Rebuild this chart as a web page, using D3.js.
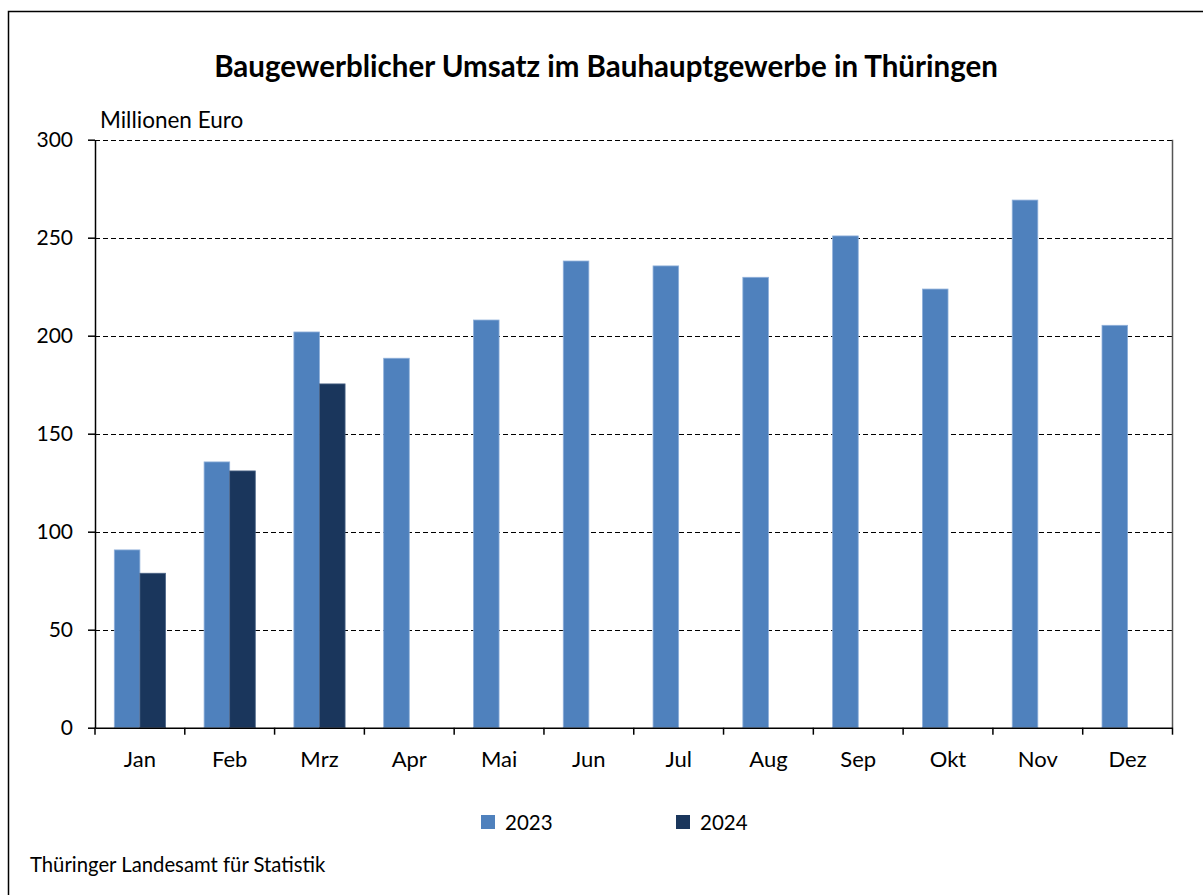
<!DOCTYPE html>
<html>
<head>
<meta charset="utf-8">
<script src="https://cdn.jsdelivr.net/npm/d3@7"></script>
<style>
  body { margin: 0; background: #fff; }
  svg { display: block; font-family: Lato, "Noto Sans", sans-serif; }
</style>
</head>
<body>
<div id="chart"></div>
<script>
const months = ["Jan", "Feb", "Mrz", "Apr", "Mai", "Jun", "Jul", "Aug", "Sep", "Okt", "Nov", "Dez"];
const years = ["2023", "2024"];
const values2023 = [90.7, 135.6, 201.9, 188.5, 208.0, 238.1, 235.6, 229.8, 250.9, 223.8, 269.2, 205.3];
const values2024 = [78.8, 131.0, 175.4, null, null, null, null, null, null, null, null, null];
const yTicks = [0, 50, 100, 150, 200, 250, 300];
const colors = ["#4f81bd", "#1a365c"];

const width = 1203, height = 895;
const margin = {left: 95, right: 1172.5, top: 139.7, bottom: 727.7};

const svg = d3.select("#chart").append("svg")
  .attr("width", width).attr("height", height);

// outer frame
svg.append("rect")
  .attr("x", 8.5).attr("y", 11.5)
  .attr("width", width + 10).attr("height", height + 10)
  .attr("fill", "none").attr("stroke", "#000").attr("stroke-width", 1.5);

const x = d3.scaleBand().domain(months)
  .range([margin.left, margin.right])
  .paddingInner(0.43).paddingOuter(0.215);
const xs = d3.scaleBand().domain(years).range([0, x.bandwidth()]);
const y = d3.scaleLinear().domain([0, 300]).range([margin.bottom, margin.top]);

// gridlines
svg.append("g").selectAll("line")
  .data(yTicks.filter(d => d > 0))
  .join("line")
  .attr("x1", margin.left).attr("x2", margin.right)
  .attr("y1", d => Math.round(y(d)) + 0.5).attr("y2", d => Math.round(y(d)) + 0.5)
  .attr("stroke", "#000").attr("stroke-width", 1)
  .attr("stroke-dasharray", "5,3");

// right border of plot
svg.append("line")
  .attr("x1", margin.right).attr("x2", margin.right)
  .attr("y1", margin.top).attr("y2", margin.bottom)
  .attr("stroke", "#555").attr("stroke-width", 1.5);

// bars
const series = [values2023, values2024];
series.forEach((vals, si) => {
  svg.append("g").selectAll("rect")
    .data(months.map((m, i) => ({m, v: vals[i]})).filter(d => d.v != null))
    .join("rect")
    .attr("x", d => x(d.m) + xs(years[si]))
    .attr("width", xs.bandwidth())
    .attr("y", d => y(d.v))
    .attr("height", d => y(0) - y(d.v))
    .attr("fill", colors[si])
    .attr("stroke", si === 0 ? "#8fb0da" : "#4a6386")
    .attr("stroke-width", 0.8);
});

// y axis
const yAxis = svg.append("g")
  .attr("transform", `translate(${margin.left},0)`)
  .call(d3.axisLeft(y).tickValues(yTicks).tickSize(7).tickPadding(15).tickSizeOuter(0));
yAxis.select(".domain").attr("stroke", "#000").attr("stroke-width", 1.5);
yAxis.selectAll(".tick line").attr("stroke", "#000").attr("stroke-width", 1.5);
yAxis.selectAll(".tick text").attr("font-size", 21).attr("fill", "#000")
  .attr("font-family", "Lato, sans-serif");

// x axis
const xAxis = svg.append("g")
  .attr("transform", `translate(0,${margin.bottom})`)
  .call(d3.axisBottom(x).tickSize(0).tickPadding(24));
xAxis.select(".domain").attr("stroke", "#000").attr("stroke-width", 1.5);
xAxis.selectAll(".tick text").attr("font-size", 22).attr("fill", "#000")
  .attr("font-family", "Lato, sans-serif");
// category boundary ticks
svg.append("g").selectAll("line")
  .data(months.concat(["end"]))
  .join("line")
  .attr("x1", (d, i) => i < months.length ? x(d) - x.step() * x.paddingOuter() : margin.right)
  .attr("x2", (d, i) => i < months.length ? x(d) - x.step() * x.paddingOuter() : margin.right)
  .attr("y1", margin.bottom).attr("y2", margin.bottom + 7)
  .attr("stroke", "#000").attr("stroke-width", 1.5);

// title
svg.append("text")
  .attr("x", 606).attr("y", 77)
  .attr("text-anchor", "middle")
  .attr("font-size", 29.5).attr("font-weight", "bold")
  .text("Baugewerblicher Umsatz im Bauhauptgewerbe in Thüringen");

svg.append("text")
  .attr("x", 100).attr("y", 128)
  .attr("font-size", 22.5)
  .text("Millionen Euro");

// legend
const legend = svg.append("g").selectAll("g")
  .data(years)
  .join("g")
  .attr("transform", (d, i) => `translate(${481 + i * 195},815)`);
legend.append("rect")
  .attr("width", 14).attr("height", 14)
  .attr("fill", (d, i) => colors[i]);
legend.append("text")
  .attr("x", 24).attr("y", 15)
  .attr("font-size", 20.5)
  .text(d => d);

svg.append("text")
  .attr("x", 30).attr("y", 872)
  .attr("font-size", 20.3)
  .text("Thüringer Landesamt für Statistik");
</script>
</body>
</html>
